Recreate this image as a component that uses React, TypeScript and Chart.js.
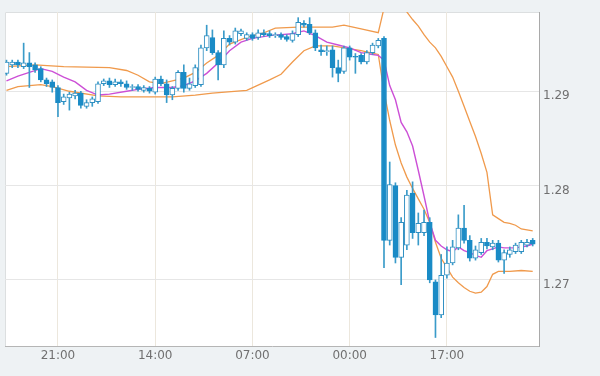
import React, { useEffect, useRef } from 'react';
import { Chart, registerables } from 'chart.js';

Chart.register(...registerables);

// Candles (hourly), index 0..92
const openP = [
  1.2919, 1.2928, 1.2931, 1.2926, 1.2930, 1.2928, 1.2924, 1.2912, 1.2910, 1.2904,
  1.2889, 1.2893, 1.2895, 1.2898, 1.2884, 1.2888, 1.2889, 1.2908, 1.2911, 1.2907,
  1.2910, 1.2908, 1.2904, 1.2905, 1.2901, 1.2903, 1.2899, 1.2913, 1.2908, 1.2896,
  1.2903, 1.2920, 1.2903, 1.2906, 1.2907, 1.2946, 1.2957, 1.2941, 1.2928, 1.2956,
  1.2952, 1.2961, 1.2956, 1.2960, 1.2957, 1.2962, 1.2961, 1.2959, 1.2960, 1.2958,
  1.2954, 1.2960, 1.2972, 1.2971, 1.2962, 1.2944, 1.2942, 1.2944, 1.2925, 1.2921,
  1.2946, 1.2937, 1.2938, 1.2931, 1.2941, 1.2948, 1.2956, 1.2742, 1.2800, 1.2724,
  1.2737, 1.2792, 1.2750, 1.2750, 1.2761, 1.2698, 1.2663, 1.2705, 1.2718, 1.2734,
  1.2755, 1.2742, 1.2723, 1.2729, 1.2740, 1.2735, 1.2739, 1.2721, 1.2727, 1.2730,
  1.2730, 1.2737, 1.2742,
];
const highP = [
  1.2933, 1.2933, 1.2933, 1.2951, 1.2941, 1.2930, 1.2926, 1.2914, 1.2912, 1.2906,
  1.2897, 1.2899, 1.2901, 1.2900, 1.2891, 1.2894, 1.2910, 1.2913, 1.2914, 1.2913,
  1.2912, 1.2911, 1.2907, 1.2907, 1.2906, 1.2905, 1.2915, 1.2916, 1.2912, 1.2905,
  1.2922, 1.2928, 1.2914, 1.2928, 1.2949, 1.2970, 1.2965, 1.2943, 1.2964, 1.2959,
  1.2967, 1.2966, 1.2962, 1.2962, 1.2965, 1.2965, 1.2964, 1.2962, 1.2962, 1.2960,
  1.2964, 1.2978, 1.2975, 1.2978, 1.2965, 1.2949, 1.2948, 1.2948, 1.2933, 1.2948,
  1.2948, 1.2940, 1.2940, 1.2943, 1.2951, 1.2956, 1.2958, 1.2825, 1.2803, 1.2766,
  1.2795, 1.2804, 1.2771, 1.2774, 1.2766, 1.2700, 1.2727, 1.2735, 1.2742, 1.2769,
  1.2779, 1.2747, 1.2736, 1.2744, 1.2744, 1.2742, 1.2742, 1.2732, 1.2735, 1.2739,
  1.2742, 1.2743, 1.2744,
];
const lowP = [
  1.2917, 1.2925, 1.2925, 1.2924, 1.2904, 1.2920, 1.2910, 1.2905, 1.2899, 1.2873,
  1.2886, 1.2880, 1.2892, 1.2882, 1.2882, 1.2884, 1.2887, 1.2906, 1.2904, 1.2905,
  1.2905, 1.2902, 1.2901, 1.2900, 1.2899, 1.2898, 1.2897, 1.2906, 1.2888, 1.2891,
  1.2901, 1.2899, 1.2901, 1.2904, 1.2905, 1.2943, 1.2939, 1.2912, 1.2925, 1.2949,
  1.2950, 1.2959, 1.2954, 1.2954, 1.2955, 1.2958, 1.2957, 1.2957, 1.2955, 1.2953,
  1.2952, 1.2958, 1.2968, 1.2960, 1.2943, 1.2938, 1.2938, 1.2915, 1.2910, 1.2919,
  1.2933, 1.2919, 1.2929, 1.2929, 1.2939, 1.2946, 1.2713, 1.2737, 1.2718, 1.2695,
  1.2732, 1.2744, 1.2737, 1.2747, 1.2697, 1.2639, 1.2660, 1.2702, 1.2716, 1.2732,
  1.2739, 1.2720, 1.2721, 1.2727, 1.2733, 1.2732, 1.2719, 1.2707, 1.2724, 1.2728,
  1.2728, 1.2735, 1.2736,
];
const closeP = [
  1.2931, 1.2931, 1.2928, 1.2930, 1.2926, 1.2923, 1.2912, 1.2908, 1.2904, 1.2888,
  1.2894, 1.2897, 1.2898, 1.2885, 1.2888, 1.2892, 1.2908, 1.2911, 1.2907, 1.2910,
  1.2908, 1.2904, 1.2905, 1.2902, 1.2904, 1.2900, 1.2913, 1.2908, 1.2896, 1.2903,
  1.2920, 1.2903, 1.2908, 1.2925, 1.2946, 1.2959, 1.2941, 1.2928, 1.2956, 1.2952,
  1.2964, 1.2964, 1.2960, 1.2956, 1.2962, 1.2960, 1.2959, 1.2960, 1.2957, 1.2955,
  1.2961, 1.2973, 1.2970, 1.2962, 1.2946, 1.2942, 1.2943, 1.2925, 1.2919, 1.2946,
  1.2936, 1.2936, 1.2931, 1.2941, 1.2949, 1.2954, 1.2742, 1.2801, 1.2724, 1.2761,
  1.2790, 1.2750, 1.2760, 1.2761, 1.2700, 1.2663, 1.2705, 1.2718, 1.2735, 1.2755,
  1.2742, 1.2723, 1.2732, 1.2740, 1.2736, 1.2739, 1.2721, 1.2729, 1.2732, 1.2737,
  1.2740, 1.2740, 1.2738,
];

// Moving average (magenta), read at candle indices
const maX = [0, 2, 4, 6, 8, 10, 12, 14, 16, 18, 21, 23, 26, 29, 31, 33, 35, 37, 39, 41, 43, 46, 50, 52, 54, 56, 58, 60, 62, 64, 65, 66, 67, 68, 69, 70, 71, 72, 73, 74, 75, 76, 77, 78, 79, 80, 81, 82, 83, 84, 85, 86, 87, 89, 91, 92];
const maY = [1.2911, 1.2916, 1.2920, 1.2924, 1.2921, 1.2915, 1.2910, 1.2901, 1.2896, 1.2897, 1.2900, 1.2902, 1.2904, 1.2904, 1.2906, 1.2911, 1.2919, 1.2930, 1.2943, 1.2952, 1.2956, 1.2959, 1.2961, 1.2964, 1.2959, 1.2952, 1.2949, 1.2946, 1.2941, 1.2939, 1.2938, 1.2933, 1.2906, 1.2891, 1.2867, 1.2857, 1.2842, 1.2816, 1.2789, 1.2761, 1.2742, 1.2736, 1.2732, 1.2730, 1.2735, 1.2731, 1.2729, 1.2726, 1.2724, 1.2731, 1.2733, 1.2735, 1.2734, 1.2734, 1.2736, 1.2738];

// Upper band (orange)
const upperX = [0, 5, 10, 18, 21, 23, 25, 27, 29, 31, 33, 35, 37, 39, 42, 45, 47, 51, 57, 59, 62, 65, 66, 67, 68, 69, 70, 71, 72, 73, 74, 75, 76, 77, 78, 79, 80, 81, 82, 83, 84, 85, 86, 87, 88, 89, 90, 91, 92];
const upperY = [1.2926, 1.2928, 1.2926, 1.2925, 1.2922, 1.2917, 1.2910, 1.2908, 1.2911, 1.2914, 1.2920, 1.2930, 1.2938, 1.2950, 1.2957, 1.2962, 1.2967, 1.2968, 1.2968, 1.2970, 1.2966, 1.2962, 1.2988, 1.3005, 1.3011, 1.3005, 1.2984, 1.2976, 1.2969, 1.2960, 1.2952, 1.2946, 1.2937, 1.2926, 1.2915, 1.2900, 1.2884, 1.2868, 1.2852, 1.2834, 1.2814, 1.2769, 1.2765, 1.2761, 1.2760, 1.2758, 1.2754, 1.2753, 1.2752];

// Lower band (orange)
const lowerX = [0, 2, 6, 8, 11, 16, 20, 26, 29, 33, 36, 42, 46, 48, 50, 52, 54, 57, 62, 65, 66, 67, 68, 69, 70, 71, 72, 73, 74, 75, 76, 77, 78, 79, 80, 81, 82, 83, 84, 85, 86, 88, 90, 92];
const lowerY = [1.2901, 1.2905, 1.2907, 1.2905, 1.2900, 1.2895, 1.2894, 1.2894, 1.2894, 1.2896, 1.2898, 1.2901, 1.2912, 1.2918, 1.2931, 1.2943, 1.2948, 1.2948, 1.2943, 1.2939, 1.2900, 1.2869, 1.2843, 1.2824, 1.2809, 1.2797, 1.2786, 1.2775, 1.2761, 1.2740, 1.2723, 1.2713, 1.2703, 1.2697, 1.2692, 1.2688, 1.2686, 1.2687, 1.2693, 1.2706, 1.2709, 1.2709, 1.2710, 1.2709];

const xTickIdx = [9, 26, 43, 60, 77];
const xTickLabels = ['21:00', '14:00', '07:00', '00:00', '17:00'];
const yTickValues = [1.27, 1.28, 1.29];

const BLUE = '#1a8bc6';
const BLUE_EDGE = '#2f8fc2';
const WICK = '#3a9bc9';
const ORANGE = '#f09a4c';
const MAGENTA = '#cc4fd6';

const plotBg = {
  id: 'plotBg',
  beforeDraw(chart: any) {
    const { ctx, chartArea: a } = chart;
    ctx.save();
    ctx.fillStyle = '#ffffff';
    ctx.fillRect(a.left, a.top, a.right - a.left, a.bottom - a.top);
    ctx.strokeStyle = '#dcdfe0';
    ctx.lineWidth = 1;
    ctx.beginPath();
    ctx.moveTo(a.left + 0.5, a.bottom);
    ctx.lineTo(a.left + 0.5, a.top + 0.5);
    ctx.lineTo(a.right, a.top + 0.5);
    ctx.stroke();
    ctx.restore();
  },
};

export default function App() {
  const ref = useRef<HTMLCanvasElement | null>(null);

  useEffect(() => {
    if (!ref.current) return;
    const bodies = openP.map((o, i) => ({ x: i, y: [o, closeP[i]] }));
    const wicks = lowP.map((l, i) => ({ x: i, y: [l, highP[i]] }));
    const toPts = (xs: number[], ys: number[]) => xs.map((x, k) => ({ x, y: ys[k] }));

    const chart = new Chart(ref.current, {
      type: 'bar',
      data: {
        datasets: [
          {
            type: 'bar',
            data: bodies as any,
            backgroundColor: (c: any) => (closeP[c.dataIndex] >= openP[c.dataIndex] ? '#ffffff' : BLUE),
            borderColor: (c: any) => (closeP[c.dataIndex] >= openP[c.dataIndex] ? BLUE_EDGE : BLUE),
            borderWidth: 1,
            borderSkipped: false,
            barThickness: 5,
            grouped: false,
            order: 1,
          } as any,
          {
            type: 'bar',
            data: wicks as any,
            backgroundColor: WICK,
            borderWidth: 0,
            barThickness: 1,
            grouped: false,
            order: 2,
          } as any,
          {
            type: 'line',
            data: toPts(maX, maY) as any,
            borderColor: MAGENTA,
            borderWidth: 1.4,
            pointRadius: 0,
            tension: 0,
            order: 3,
          } as any,
          {
            type: 'line',
            data: toPts(upperX, upperY) as any,
            borderColor: ORANGE,
            borderWidth: 1.3,
            pointRadius: 0,
            tension: 0,
            order: 4,
          } as any,
          {
            type: 'line',
            data: toPts(lowerX, lowerY) as any,
            borderColor: ORANGE,
            borderWidth: 1.3,
            pointRadius: 0,
            tension: 0,
            order: 5,
          } as any,
        ],
      },
      options: {
        animation: false,
        responsive: false,
        devicePixelRatio: 1,
        layout: { padding: { left: 5, top: 12, right: 0, bottom: 0 } },
        plugins: { legend: { display: false }, tooltip: { enabled: false } },
        scales: {
          x: {
            type: 'linear',
            min: -0.26,
            max: 93.1,
            offset: false,
            afterFit: (s: any) => { s.height = 30; },
            afterBuildTicks: (s: any) => { s.ticks = xTickIdx.map((v) => ({ value: v })); },
            grid: { color: '#ece7dd', drawTicks: false, offset: false },
            border: { color: '#b5b5b5', width: 1 },
            ticks: {
              padding: 3,
              maxRotation: 0,
              autoSkip: false,
              color: '#707070',
              font: { family: 'DejaVu Sans', size: 12 },
              callback: (v: any) => {
                const k = xTickIdx.indexOf(Number(v));
                return k >= 0 ? xTickLabels[k] : '';
              },
            },
          },
          y: {
            type: 'linear',
            position: 'right',
            min: 1.263,
            max: 1.2984,
            afterFit: (s: any) => { s.width = 61; },
            afterBuildTicks: (s: any) => { s.ticks = yTickValues.map((v) => ({ value: v })); },
            grid: { color: '#e6e6e6', drawTicks: false },
            border: { color: '#a9a9a9', width: 1 },
            ticks: {
              padding: 4,
              labelOffset: 5,
              color: '#707070',
              font: { family: 'DejaVu Sans', size: 12 },
              callback: (v: any) => Number(v).toFixed(2),
            },
          },
        },
      } as any,
      plugins: [plotBg],
    });
    return () => chart.destroy();
  }, []);

  return (
    <div style={{ position: 'fixed', left: 0, top: 0, width: 600, height: 376, background: '#eef2f4' }}>
      <canvas ref={ref} width={600} height={376} style={{ display: 'block', width: 600, height: 376 }} />
    </div>
  );
}
